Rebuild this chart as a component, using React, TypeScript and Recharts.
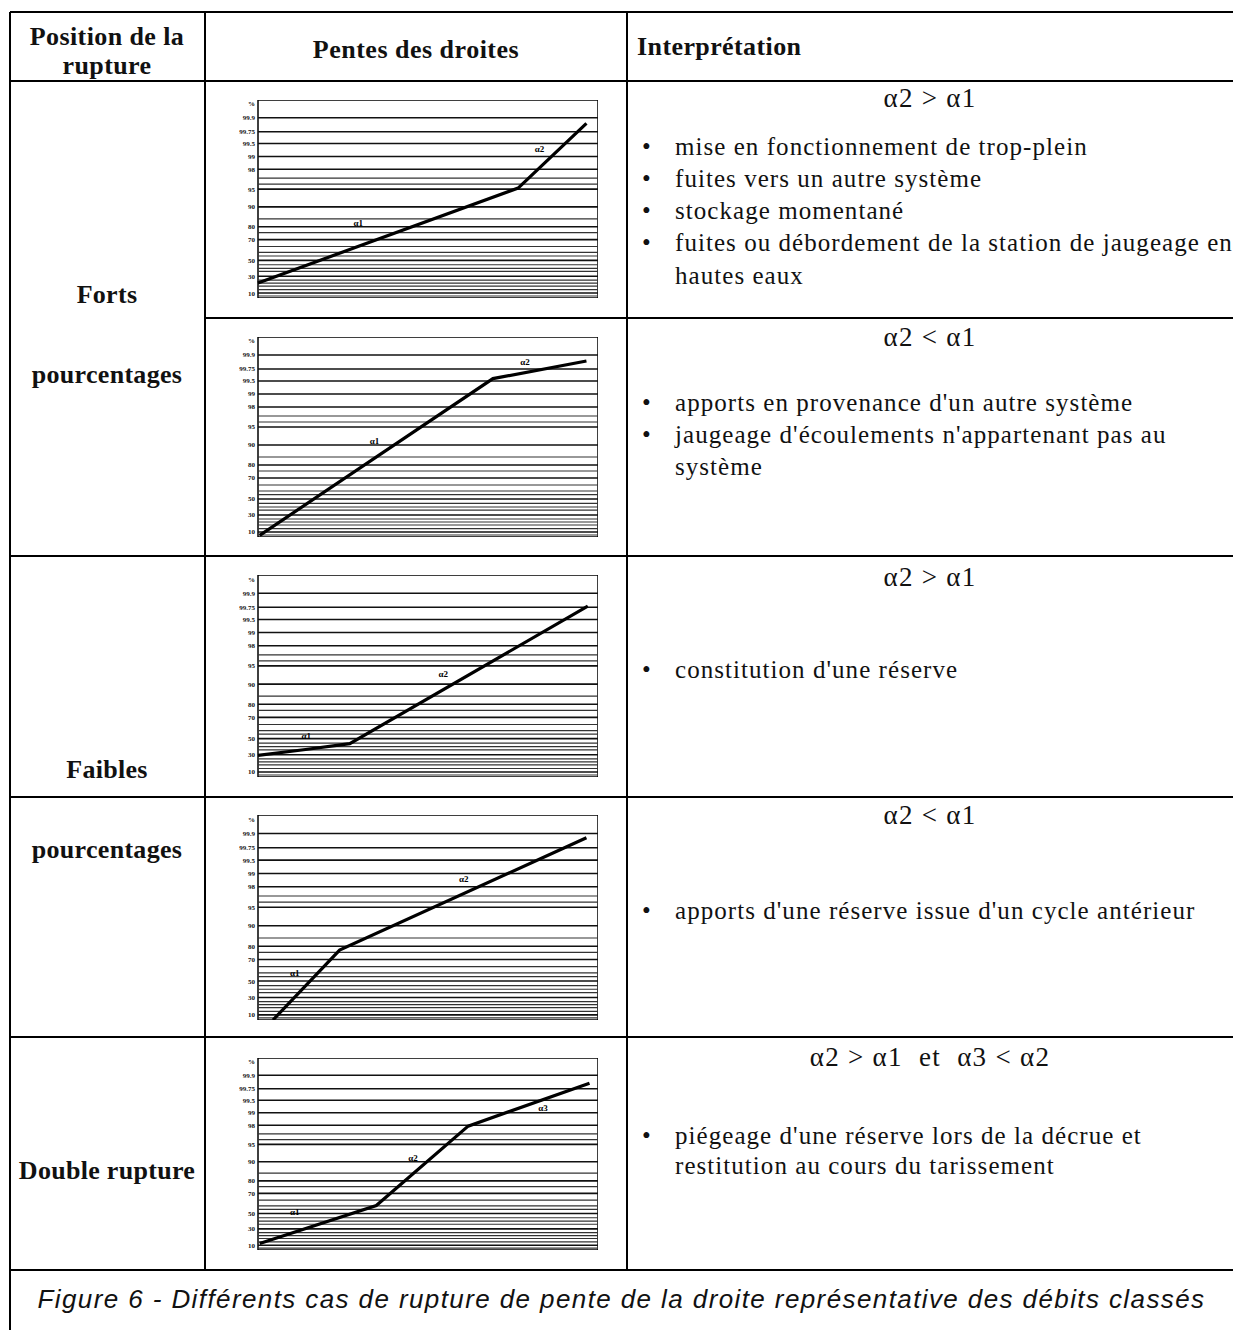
import React from 'react';
import {LineChart, Line, XAxis, YAxis, ReferenceLine, ReferenceArea, ReferenceDot} from "recharts";

// probability-scale axis: label and its height in the plot (0 = bottom, 100 = top)
const tickLabels = ["%", "99.9", "99.75", "99.5", "99", "98", "95", "90", "80", "70", "50", "30", "10"];
const tickLevels = [98, 91, 84, 78, 71.5, 65, 55, 46, 36, 29.5, 19, 11, 2.5];
const minorLevels = [60.5, 57.5, 40, 33, 26, 23, 21.2, 16.8, 15, 13.4, 9, 7.5, 6, 4.2, 1];

// x = share of the record (0-100), y = height on the probability axis
const line1 = [{x: 0, y: 7.6}, {x: 76.5, y: 55.5}, {x: 96.6, y: 88.2}];
const line2 = [{x: 0.5, y: 0.8}, {x: 69.1, y: 79.2}, {x: 96.6, y: 88}];
const line3 = [{x: 0, y: 10.7}, {x: 14, y: 13.6}, {x: 27, y: 16.5}, {x: 97, y: 84.6}];
const line4 = [{x: 4.4, y: 0}, {x: 24, y: 34.1}, {x: 96.6, y: 88.9}];
const line5 = [{x: 0.5, y: 3.4}, {x: 34.8, y: 23.2}, {x: 61.8, y: 64.5}, {x: 97.5, y: 86.9}];

const slopes1 = [{name: "α1", x: 29.5, y: 38}, {name: "α2", x: 82.8, y: 75.6}];
const slopes2 = [{name: "α1", x: 34.3, y: 48.3}, {name: "α2", x: 78.5, y: 87.5}];
const slopes3 = [{name: "α1", x: 14.2, y: 20.5}, {name: "α2", x: 54.5, y: 51}];
const slopes4 = [{name: "α1", x: 10.8, y: 23}, {name: "α2", x: 60.5, y: 69}];
const slopes5 = [{name: "α1", x: 10.8, y: 19.8}, {name: "α2", x: 45.6, y: 48.2}, {name: "α3", x: 83.8, y: 74}];

const serif = "'Liberation Serif', 'Times New Roman', serif";
const AXIS_W = 34;
const PLOT_LEFT = 258;
const PLOT_W = 340;

interface Pt { x: number; y: number; }
interface Slope { name: string; x: number; y: number; }

const MiniChart: React.FC<{ top: number; height: number; data: Pt[]; slopes: Slope[] }> = ({top, height, data, slopes}) => (
    <div style={{position: 'absolute', left: PLOT_LEFT - AXIS_W, top, width: AXIS_W + PLOT_W, height}}>
        <LineChart width={AXIS_W + PLOT_W} height={height} data={data} margin={{top: 0, right: 0, bottom: 0, left: 0}}>
            <XAxis dataKey="x" type="number" domain={[0, 100]} hide/>
            <YAxis type="number" domain={[0, 100]} ticks={tickLevels} interval={0} width={AXIS_W}
                   axisLine={false} tickLine={false} tickSize={0} tickMargin={3}
                   tick={{fontSize: 7, fontWeight: 'bold', fill: '#111', fontFamily: serif}}
                   tickFormatter={(v: number) => tickLabels[tickLevels.indexOf(v)] ?? ''}/>
            {tickLevels.slice(1).map(l => <ReferenceLine key={'t' + l} y={l} stroke="#111" strokeWidth={1.6}/>)}
            {minorLevels.map(l => <ReferenceLine key={'m' + l} y={l} stroke="#333" strokeWidth={1.2}/>)}
            <ReferenceArea x1={0} x2={100} y1={0} y2={100} fill="none" stroke="#000" strokeWidth={1.5}/>
            <Line type="linear" dataKey="y" stroke="#000" strokeWidth={3.2} dot={false} isAnimationActive={false}/>
            {slopes.map(s => (
                <ReferenceDot key={s.name} x={s.x} y={s.y} r={1} fill="none" stroke="none"
                              label={{value: s.name, position: 'center', fontSize: 9, fontWeight: 'bold', fill: '#000', fontFamily: serif}}/>
            ))}
        </LineChart>
    </div>
);

const H: React.FC<{ x1: number; x2: number; y: number }> = ({x1, x2, y}) => (
    <div style={{position: 'absolute', left: x1, top: y - 1, width: x2 - x1, height: 2, background: '#000'}}/>
);
const V: React.FC<{ x: number; y1: number; y2: number }> = ({x, y1, y2}) => (
    <div style={{position: 'absolute', left: x - 1, top: y1, width: 2, height: y2 - y1, background: '#000'}}/>
);

const T: React.FC<{ x: number; y: number; w?: number; center?: boolean; bold?: boolean; size?: number; ls?: number; children: React.ReactNode }> =
    ({x, y, w = 600, center, bold, size = 25, ls = 1.05, children}) => (
        <div style={{
            position: 'absolute', left: center ? x - w / 2 : x, top: y - 16, width: w, height: 32, lineHeight: '32px',
            textAlign: center ? 'center' : 'left', fontFamily: serif, fontSize: size, fontWeight: bold ? 'bold' : 'normal',
            letterSpacing: ls, color: '#111', whiteSpace: 'nowrap'
        }}>{children}</div>
    );

const Bullet: React.FC<{ y: number; children: React.ReactNode }> = ({y, children}) => (
    <>
        <T x={642} y={y} w={20}>•</T>
        <T x={675} y={y}>{children}</T>
    </>
);

const App: React.FC = () => {
    return (
        <div style={{position: 'absolute', left: 0, top: 0, width: 1233, height: 1330, background: '#fff', overflow: 'hidden'}}>
            {/* table rules */}
            <H x1={10} x2={1233} y={12}/>
            <H x1={10} x2={1233} y={81}/>
            <H x1={205} x2={1233} y={318}/>
            <H x1={10} x2={1233} y={556}/>
            <H x1={10} x2={1233} y={797}/>
            <H x1={10} x2={1233} y={1037}/>
            <H x1={10} x2={1233} y={1270}/>
            <V x={10} y1={12} y2={1330}/>
            <V x={205} y1={12} y2={1270}/>
            <V x={627} y1={12} y2={1270}/>

            {/* header */}
            <T x={107} y={37} w={194} center bold size={26} ls={0.4}>Position de la</T>
            <T x={107} y={66} w={194} center bold size={26} ls={0.4}>rupture</T>
            <T x={416} y={50} w={400} center bold size={26} ls={0.5}>Pentes des droites</T>
            <T x={637} y={47} bold size={26} ls={0.4}>Interprétation</T>

            {/* first column */}
            <T x={107} y={295} w={194} center bold size={26} ls={0.3}>Forts</T>
            <T x={107} y={375} w={194} center bold size={26} ls={0.3}>pourcentages</T>
            <T x={107} y={770} w={194} center bold size={26} ls={0.3}>Faibles</T>
            <T x={107} y={850} w={194} center bold size={26} ls={0.3}>pourcentages</T>
            <T x={107} y={1171} w={194} center bold size={26} ls={0.3}>Double rupture</T>

            {/* charts */}
            <MiniChart top={100} height={198} data={line1} slopes={slopes1}/>
            <MiniChart top={337} height={200} data={line2} slopes={slopes2}/>
            <MiniChart top={575} height={202} data={line3} slopes={slopes3}/>
            <MiniChart top={815} height={205} data={line4} slopes={slopes4}/>
            <MiniChart top={1058} height={192} data={line5} slopes={slopes5}/>

            {/* interpretation */}
            <T x={930} y={98} w={560} center size={27} ls={1.3}>α2 &gt; α1</T>
            <Bullet y={147}>mise en fonctionnement de trop-plein</Bullet>
            <Bullet y={179}>fuites vers un autre système</Bullet>
            <Bullet y={211}>stockage momentané</Bullet>
            <Bullet y={243}>fuites ou débordement de la station de jaugeage en</Bullet>
            <T x={675} y={276}>hautes eaux</T>

            <T x={930} y={337} w={560} center size={27} ls={1.3}>α2 &lt; α1</T>
            <Bullet y={403}>apports en provenance d'un autre système</Bullet>
            <Bullet y={435}>jaugeage d'écoulements n'appartenant pas au</Bullet>
            <T x={675} y={467}>système</T>

            <T x={930} y={577} w={560} center size={27} ls={1.3}>α2 &gt; α1</T>
            <Bullet y={670}>constitution d'une réserve</Bullet>

            <T x={930} y={815} w={560} center size={27} ls={1.3}>α2 &lt; α1</T>
            <Bullet y={911}>apports d'une réserve issue d'un cycle antérieur</Bullet>

            <T x={930} y={1057} w={560} center size={27} ls={1.3}>α2 &gt; α1&nbsp;&nbsp;et&nbsp;&nbsp;α3 &lt; α2</T>
            <Bullet y={1136}>piégeage d'une réserve lors de la décrue et</Bullet>
            <T x={675} y={1166}>restitution au cours du tarissement</T>

            {/* caption */}
            <div style={{
                position: 'absolute', left: 10, top: 1284, width: 1223, textAlign: 'center',
                fontFamily: "'Liberation Sans', Arial, sans-serif", fontStyle: 'italic', fontSize: 26, letterSpacing: 1.4,
                color: '#111', whiteSpace: 'nowrap'
            }}>
                Figure 6 - Différents cas de rupture de pente de la droite représentative des débits classés
            </div>
        </div>
    );
};

export default App;
